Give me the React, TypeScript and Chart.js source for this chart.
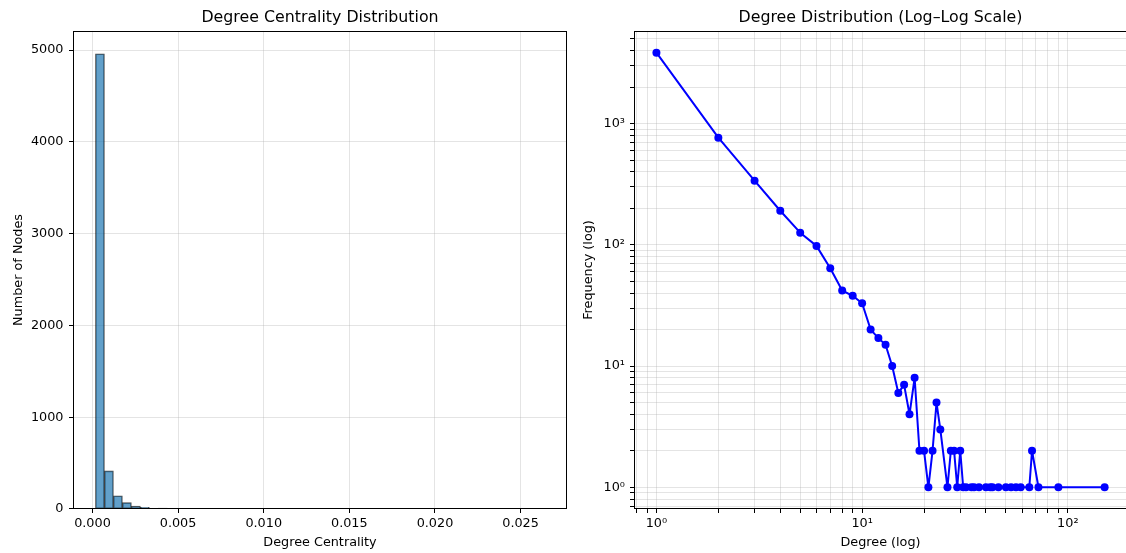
import React, { useEffect, useRef } from "react";
import { Chart, registerables } from "chart.js";

Chart.register(...registerables);

// ---------- Data ----------
// Histogram of degree centrality (50 equal bins between binMin and binMax)
const histCounts = [
  4960, 415, 144, 70, 31, 19, 5, 10, 3, 5,
  2, 2, 1, 2, 1, 1, 1, 1, 1, 1,
  0, 1, 2, 1, 0, 0, 0, 0, 0, 1,
  0, 0, 0, 0, 0, 0, 0, 0, 0, 0,
  0, 0, 0, 0, 0, 0, 0, 0, 0, 1,
];
const binMin = 0.000175;
const binMax = 0.0264;
const histXTicks = [0, 0.005, 0.01, 0.015, 0.02, 0.025];
const histYTicks = [0, 1000, 2000, 3000, 4000, 5000];

// Degree distribution (log-log)
const degrees = [
  1, 2, 3, 4, 5, 6, 7, 8, 9, 10, 11, 12, 13, 14, 15, 16, 17, 18, 19, 20,
  21, 22, 23, 24, 26, 27, 28, 29, 30, 31, 32, 34, 35, 37, 40, 42, 43, 46,
  50, 53, 56, 59, 65, 67, 72, 90, 151,
];
const frequencies = [
  3850, 766, 338, 191, 126, 98, 64, 42, 38, 33, 20, 17, 15, 10, 6, 7, 4, 8, 2, 2,
  1, 2, 5, 3, 1, 2, 2, 1, 2, 1, 1, 1, 1, 1, 1, 1, 1, 1,
  1, 1, 1, 1, 1, 2, 1, 1, 1,
];
const logXDecades = [-1, 0, 1, 2];
const logYDecades = [-1, 0, 1, 2, 3];
const logMultipliers = [1, 2, 3, 4, 5, 6, 7, 8, 9];

const FONT = "'DejaVu Sans', 'Liberation Sans', sans-serif";
const TITLE_SIZE = 15.8;
const LABEL_SIZE = 12.8;
const GRID = "rgba(176,176,176,0.34)";
const SUP: Record<string, string> = { "-": "⁻", "0": "⁰", "1": "¹", "2": "²", "3": "³", "4": "⁴", "5": "⁵", "6": "⁶", "7": "⁷", "8": "⁸", "9": "⁹" };
const powLabel = (e: number) => "10" + String(e).split("").map((c) => SUP[c] || c).join("");

const framePlugin = {
  id: "frame",
  afterDraw(chart: any) {
    const { ctx, chartArea } = chart;
    const l = Math.round(chartArea.left) + 0.5;
    const t = Math.round(chartArea.top) + 0.5;
    const r = Math.round(chartArea.right) - 0.5;
    const b = Math.round(chartArea.bottom) - 0.5;
    ctx.save();
    ctx.strokeStyle = "#000";
    ctx.lineWidth = 1;
    ctx.strokeRect(l, t, r - l, b - t);
    ctx.restore();
  },
};

function buildLogTicks(decades: number[], min: number, max: number) {
  const out: { value: number; major: boolean }[] = [];
  decades.forEach((d) => {
    logMultipliers.forEach((m) => {
      const v = m * Math.pow(10, d);
      if (v >= min && v <= max) out.push({ value: v, major: m === 1 });
    });
  });
  return out;
}

const logLabel = (v: any) => {
  const e = Math.log10(Number(v));
  return Math.abs(e - Math.round(e)) < 1e-9 ? powLabel(Math.round(e)) : "";
};

export default function App() {
  const leftRef = useRef<HTMLCanvasElement>(null);
  const rightRef = useRef<HTMLCanvasElement>(null);

  useEffect(() => {
    Chart.defaults.font.family = FONT;
    Chart.defaults.color = "#000";

    const binWidth = (binMax - binMin) / histCounts.length;
    const histData = histCounts.map((c, i) => ({ x: binMin + (i + 0.5) * binWidth, y: c }));

    const left = new Chart(leftRef.current!, {
      type: "bar",
      data: {
        datasets: [
          {
            data: histData as any,
            backgroundColor: "rgba(31,119,180,0.7)",
            borderColor: "rgba(0,0,0,0.7)",
            borderWidth: 1,
            borderSkipped: false,
            barPercentage: 1,
            categoryPercentage: 1,
          },
        ],
      },
      options: {
        animation: false,
        responsive: false,
        events: [],
        layout: { padding: { left: 0, right: 8, top: 0, bottom: 0 } },
        plugins: {
          legend: { display: false },
          tooltip: { enabled: false },
          title: {
            display: true,
            text: "Degree Centrality Distribution",
            fullSize: false,
            font: { size: TITLE_SIZE, weight: "normal" as any, family: FONT },
            color: "#000",
            padding: { top: 8.5, bottom: 3.5 },
          },
        },
        scales: {
          x: {
            type: "linear",
            min: -0.001136,
            max: 0.02771,
            offset: false,
            afterBuildTicks: (s: any) => {
              s.ticks = histXTicks.map((v) => ({ value: v }));
            },
            afterFit: (s: any) => {
              s.height = 44;
            },
            ticks: {
              autoSkip: false,
              maxRotation: 0,
              padding: 3,
              font: { size: LABEL_SIZE },
              callback: (v: any) => Number(v).toFixed(3),
            },
            grid: { color: GRID, tickColor: "#000", tickLength: 4, offset: false },
            border: { display: false },
            title: {
              display: true,
              text: "Degree Centrality",
              font: { size: LABEL_SIZE },
              padding: { top: 0, bottom: 2.5 },
            },
          },
          y: {
            type: "linear",
            min: 0,
            max: 5208,
            afterBuildTicks: (s: any) => {
              s.ticks = histYTicks.map((v) => ({ value: v }));
            },
            afterFit: (s: any) => {
              s.width = 73;
            },
            ticks: {
              autoSkip: false,
              padding: 5.5,
              font: { size: LABEL_SIZE },
              callback: (v: any) => String(v),
            },
            grid: { color: GRID, tickColor: "#000", tickLength: 4 },
            border: { display: false },
            title: {
              display: true,
              text: "Number of Nodes",
              font: { size: LABEL_SIZE },
              padding: { top: 10.5, bottom: 0 },
            },
          },
        },
      },
      plugins: [framePlugin],
    });

    const xMin = 0.778;
    const xMax = 194;
    const yMin = 0.662;
    const yMax = 5810;
    const lineData = degrees.map((d, i) => ({ x: d, y: frequencies[i] }));

    const right = new Chart(rightRef.current!, {
      type: "line",
      data: {
        datasets: [
          {
            data: lineData as any,
            borderColor: "#0000ff",
            backgroundColor: "#0000ff",
            borderWidth: 2,
            borderJoinStyle: "round",
            borderCapStyle: "round",
            pointRadius: 4,
            pointBorderWidth: 0,
            pointBackgroundColor: "#0000ff",
            tension: 0,
          },
        ],
      },
      options: {
        animation: false,
        responsive: false,
        events: [],
        layout: { padding: { left: 0, right: 4, top: 0, bottom: 0 } },
        plugins: {
          legend: { display: false },
          tooltip: { enabled: false },
          title: {
            display: true,
            text: "Degree Distribution (Log–Log Scale)",
            fullSize: false,
            font: { size: TITLE_SIZE, weight: "normal" as any, family: FONT },
            color: "#000",
            padding: { top: 8.5, bottom: 3.5 },
          },
        },
        scales: {
          x: {
            type: "logarithmic",
            min: xMin,
            max: xMax,
            afterBuildTicks: (s: any) => {
              s.ticks = buildLogTicks(logXDecades, xMin, xMax);
            },
            afterFit: (s: any) => {
              s.height = 44;
            },
            ticks: {
              autoSkip: false,
              maxRotation: 0,
              padding: 3,
              font: { size: LABEL_SIZE },
              callback: logLabel,
            },
            grid: { color: GRID, tickColor: "#000", tickLength: 4 },
            border: { display: false },
            title: {
              display: true,
              text: "Degree (log)",
              font: { size: LABEL_SIZE },
              padding: { top: 0, bottom: 2.5 },
            },
          },
          y: {
            type: "logarithmic",
            min: yMin,
            max: yMax,
            afterBuildTicks: (s: any) => {
              s.ticks = buildLogTicks(logYDecades, yMin, yMax);
            },
            afterFit: (s: any) => {
              s.width = 59;
            },
            ticks: {
              autoSkip: false,
              padding: 5,
              font: { size: LABEL_SIZE },
              callback: logLabel,
            },
            grid: { color: GRID, tickColor: "#000", tickLength: 4 },
            border: { display: false },
            title: {
              display: true,
              text: "Frequency (log)",
              font: { size: LABEL_SIZE },
              padding: { top: 5.5, bottom: 0 },
            },
          },
        },
      },
      plugins: [framePlugin],
    });

    return () => {
      left.destroy();
      right.destroy();
    };
  }, []);

  return (
    <div
      style={{
        position: "absolute",
        left: 0,
        top: 0,
        width: 1126,
        height: 553,
        overflow: "hidden",
        background: "#fff",
      }}
    >
      <canvas
        ref={leftRef}
        width={575}
        height={553}
        style={{ position: "absolute", left: 0, top: 0, width: 575, height: 553 }}
      />
      <canvas
        ref={rightRef}
        width={556}
        height={553}
        style={{ position: "absolute", left: 575, top: 0, width: 556, height: 553 }}
      />
    </div>
  );
}
